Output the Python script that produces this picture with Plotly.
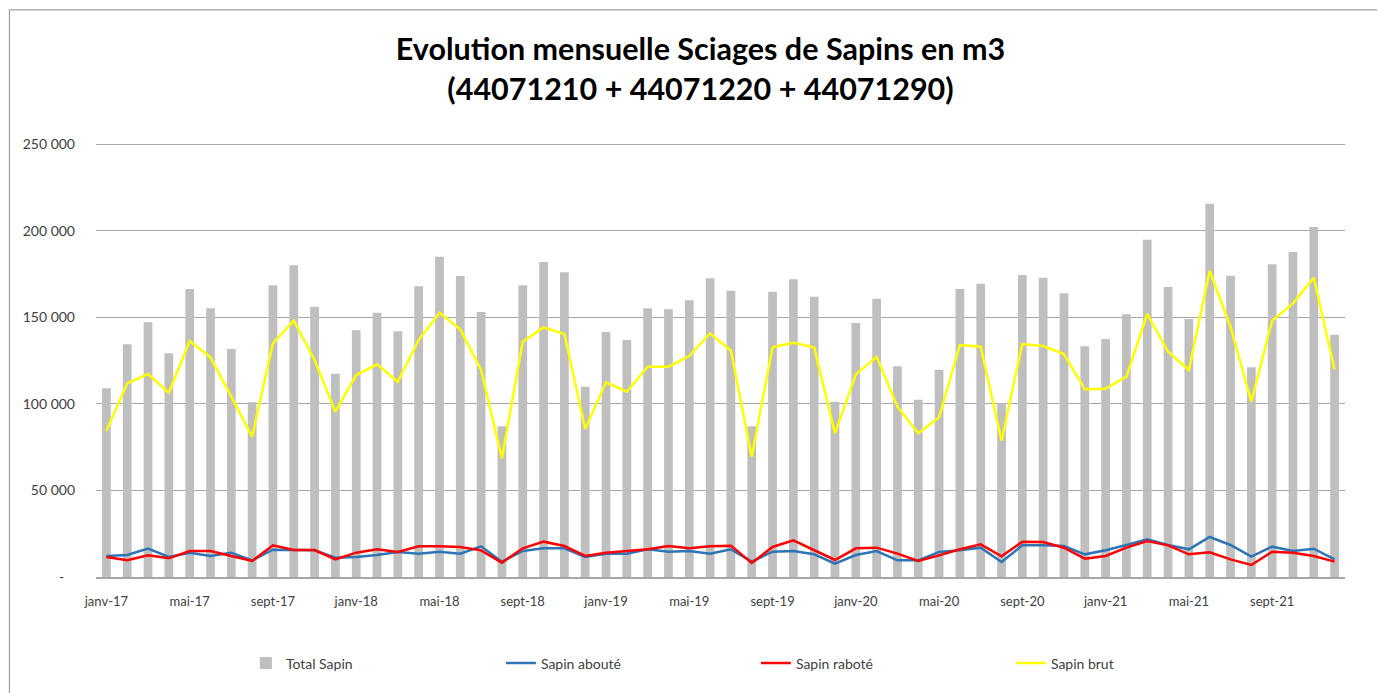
import plotly.graph_objects as go

months_fr = ["janv", "févr", "mars", "avr", "mai", "juin", "juil", "août", "sept", "oct", "nov", "déc"]
years = ["17", "18", "19", "20", "21"]
categories = [f"{m}-{y}" for y in years for m in months_fr]

total_sapin = [
    108950, 134370, 147060, 129170, 166290, 155140, 131650, 100870, 168430, 179970, 156070, 117390,
    142440, 152610, 141850, 167850, 184950, 173800, 153010, 87010, 168430, 181880, 175930, 109880,
    141460, 136840, 155140, 154570, 159770, 172470, 165310, 87010, 164730, 171890, 161850, 101220,
    146660, 160690, 121660, 102370, 119700, 166290, 169350, 100290, 174380, 172820, 163810, 133210,
    137420, 151680, 194760, 167450, 148970, 215550, 173970, 121080, 180550, 187660, 202090, 139900,
]
sapin_aboute = [
    12130, 12700, 16360, 11550, 14050, 12130, 14050, 9630, 15790, 15790, 15400, 11170,
    11550, 12700, 14440, 13480, 14630, 13480, 17710, 8860, 15020, 16560, 16560, 11550,
    13480, 13480, 15980, 14630, 15020, 13480, 15980, 8860, 14630, 15020, 13090, 7700,
    12700, 15020, 9630, 9630, 14440, 15400, 16940, 8660, 18290, 18290, 17900, 13090,
    15400, 18480, 21750, 18480, 15980, 23100, 18480, 11740, 17520, 15020, 16360, 10200,
]
sapin_rabote = [
    11550, 9630, 12510, 10780, 15020, 15020, 12130, 9240, 18290, 15590, 15590, 10200,
    14050, 15980, 14440, 17710, 17710, 17330, 15400, 8280, 16560, 20410, 17900, 12130,
    14050, 15020, 15980, 17900, 16560, 17710, 18100, 8090, 17330, 21180, 15400, 9820,
    16560, 16940, 13480, 9240, 12510, 15980, 18870, 11940, 20410, 20210, 16940, 10590,
    12130, 16940, 20790, 18290, 13090, 14250, 10200, 6930, 14630, 14050, 12130, 8860,
]
sapin_brut = [
    84490, 111830, 117210, 106430, 136270, 126830, 104130, 81030, 134920, 148000, 125300, 95470,
    116640, 122800, 112780, 136840, 152610, 143000, 119520, 68520, 135880, 144150, 140310, 85460,
    112400, 107010, 121450, 121450, 127600, 140690, 130690, 69480, 132600, 135300, 132600, 82960,
    117020, 127220, 98350, 82960, 92190, 133960, 133000, 78710, 134540, 133390, 128770, 108360,
    108740, 115680, 151880, 130110, 119520, 176880, 144540, 101220, 148000, 158030, 172820, 119910,
]

y_tickvals = [0, 50000, 100000, 150000, 200000, 250000]
y_ticktext = ["-\u00a0\u00a0\u00a0", "50 000", "100 000", "150 000", "200 000", "250 000"]

FONT = "Lato, Open Sans, sans-serif"

fig = go.Figure()
fig.add_trace(go.Bar(x=categories, y=total_sapin, name="Total Sapin",
                     marker=dict(color="#BFBFBF", line=dict(width=0)), width=0.42))
fig.add_trace(go.Scatter(x=categories, y=sapin_aboute, name="Sapin abouté", mode="lines",
                         line=dict(color="#2E75B6", width=2.5)))
fig.add_trace(go.Scatter(x=categories, y=sapin_rabote, name="Sapin raboté", mode="lines",
                         line=dict(color="#FF0000", width=2.5)))
fig.add_trace(go.Scatter(x=categories, y=sapin_brut, name="Sapin brut", mode="lines",
                         line=dict(color="#FFFF00", width=2.5)))

fig.update_layout(
    width=1385, height=693,
    margin=dict(l=88, r=48, t=134, b=124, autoexpand=False),
    paper_bgcolor="white", plot_bgcolor="white",
    font=dict(family=FONT, size=14, color="#404040"),
    title=dict(
        text="<b>Evolution mensuelle Sciages de Sapins en m3<br>(44071210 + 44071220 + 44071290)</b>",
        x=0.5, xanchor="center", y=0.925, yanchor="middle",
        font=dict(family=FONT, size=30.5, color="#000000"),
    ),
    bargap=0.58,
    showlegend=True,
    legend=dict(orientation="h", x=0.12, xanchor="left", y=-0.162, yanchor="top",
                font=dict(family=FONT, size=14, color="#404040"),
                entrywidth=210, entrywidthmode="pixels", traceorder="normal",
                itemwidth=30),
    xaxis=dict(
        type="category", range=[-0.5, 59.5],
        tickmode="array", tickvals=categories[::4], ticktext=categories[::4],
        tickangle=0, showgrid=False, showline=True, linecolor="#A6A6A6", linewidth=1.5,
        ticks="", ticklabelstandoff=12, tickfont=dict(size=13, color="#404040"),
    ),
    yaxis=dict(
        range=[0, 251200], tickmode="array", tickvals=y_tickvals, ticktext=y_ticktext,
        showgrid=True, gridcolor="#A6A6A6", gridwidth=1.2, zeroline=False,
        showline=False, ticks="", ticklabelstandoff=20,
        tickfont=dict(size=14, color="#404040"),
    ),
    shapes=[dict(type="rect", xref="paper", yref="paper",
                 x0=-0.0693, x1=1.04, y0=-0.29, y1=1.3037,
                 line=dict(color="#A0A0A0", width=1.2), fillcolor="rgba(0,0,0,0)", layer="below")],
)

fig.write_html("out.html")
